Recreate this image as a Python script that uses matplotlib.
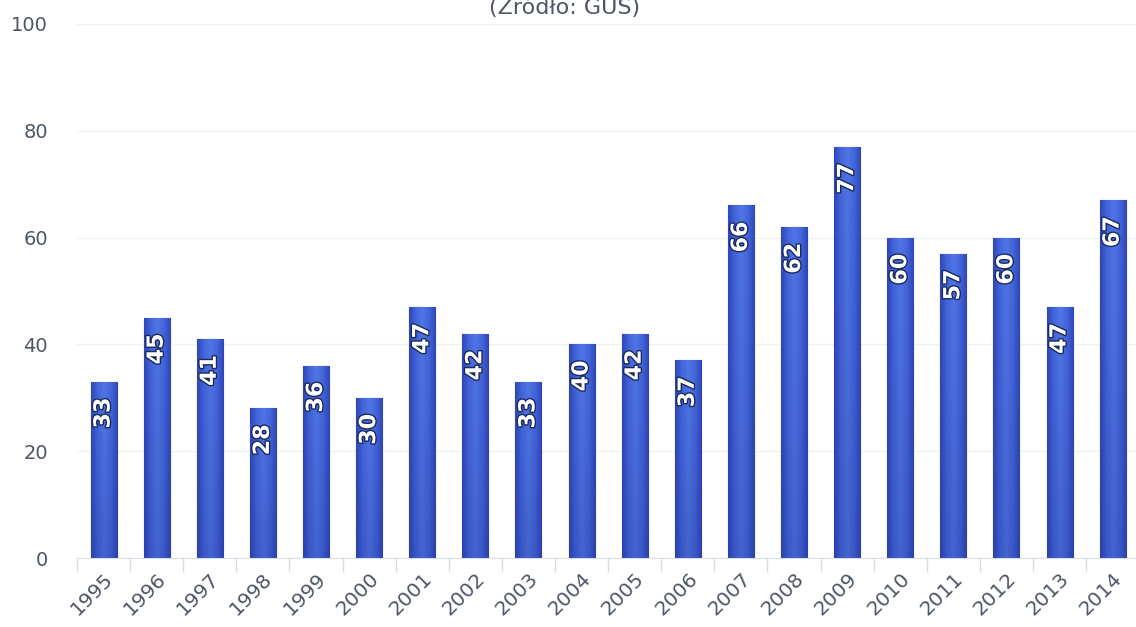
import numpy as np
import matplotlib
matplotlib.use("Agg")
import matplotlib.pyplot as plt
import matplotlib.patheffects as pe
from matplotlib.colors import LinearSegmentedColormap

years = ['1995', '1996', '1997', '1998', '1999', '2000', '2001', '2002', '2003', '2004',
         '2005', '2006', '2007', '2008', '2009', '2010', '2011', '2012', '2013', '2014']
values = [33, 45, 41, 28, 36, 30, 47, 42, 33, 40, 42, 37, 66, 62, 77, 60, 57, 60, 47, 67]
title = '(Źródło: GUS)'

txt = '#4d5666'

fig = plt.figure(figsize=(11.36, 6.27), dpi=100)
ax = fig.add_axes([0.0678, 0.110, 0.935, 0.852])

x = np.arange(len(years))
bars = ax.bar(x, values, width=0.49, color='#3c5ad0', edgecolor='#2c45b0', linewidth=0.8, zorder=2)

# horizontal gradient: lighter centre, darker edges
cmap = LinearSegmentedColormap.from_list('barg', ['#2f47b8', '#4466dc', '#5076e4', '#4466dc', '#2f47b8'])
grad = np.linspace(0, 1, 64).reshape(1, -1)
vshade = LinearSegmentedColormap.from_list('v', [(0.1, 0.15, 0.5, 0.0), (0.1, 0.15, 0.5, 0.22)])
vg = np.linspace(0, 1, 64).reshape(-1, 1)
for b in bars:
    x0, w, h = b.get_x(), b.get_width(), b.get_height()
    im = ax.imshow(grad, cmap=cmap, aspect='auto', extent=[x0, x0 + w, 0, h], zorder=2.5)
    im.set_clip_path(b)
    im2 = ax.imshow(vg, cmap=vshade, aspect='auto', extent=[x0, x0 + w, 0, h],
                    origin='upper', zorder=2.6)
    im2.set_clip_path(b)

for xi, v in zip(x, values):
    ax.annotate(str(v), (xi, v), xytext=(0, -16), textcoords='offset pixels',
                rotation=90, ha='center', va='top', color='white', fontsize=16,
                fontweight='bold', zorder=4,
                path_effects=[pe.withStroke(linewidth=2, foreground='#1a2a5a')])

ax.set_xlim(-0.5, 19.45)
ax.set_ylim(0, 100)
ax.set_yticks([0, 20, 40, 60, 80, 100])
ax.tick_params(axis='y', length=0, pad=21, labelsize=14, labelcolor=txt)
ax.grid(axis='y', color='#eef0f4', linewidth=1, zorder=0)

ax.set_xticks(x)
ax.set_xticklabels(years, rotation=45, ha='right', rotation_mode='anchor')
ax.tick_params(axis='x', length=0, pad=8, labelsize=14.5, labelcolor=txt)
ax.set_xticks(np.arange(-0.5, 20, 1), minor=True)
ax.tick_params(axis='x', which='minor', length=10, color='#d8dee8', width=1)

for s in ['top', 'right', 'left']:
    ax.spines[s].set_visible(False)
ax.spines['bottom'].set_color('#d8dee8')

fig.text(0.497, 1 - 14 / 627, title, ha='center', va='baseline', fontsize=16, color=txt)

fig.savefig('out.png', dpi=100)
